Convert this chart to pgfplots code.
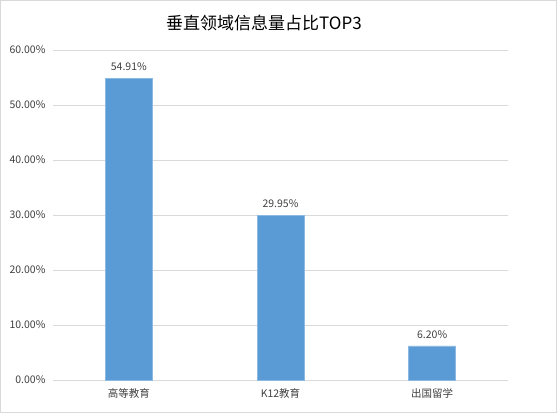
\documentclass[border=0pt]{standalone}
\usepackage{pgfplots}
\pgfplotsset{compat=1.18}
\usepackage{fontspec}
\setmainfont{Noto Sans CJK SC}
\definecolor{barblue}{HTML}{5B9BD5}
\definecolor{gridgray}{HTML}{D9D9D9}
\definecolor{txtgray}{HTML}{404040}
\begin{document}
\begin{tikzpicture}[x=1pt,y=1pt]
\draw[gridgray, line width=1pt] (0.5,0.5) rectangle (556.5,412.5);
\node[font=\fontsize{17}{20}\selectfont, text=black] at (264,390) {垂直领域信息量占比TOP3};
\begin{axis}[
  at={(53pt,33pt)}, anchor=south west,
  scale only axis, width=455pt, height=330pt,
  xmin=-0.5, xmax=2.5, ymin=0, ymax=60,
  xtick={0,1,2}, xticklabels={高等教育,K12教育,出国留学},
  ytick={0,10,...,60},
  axis lines*=left,
  x axis line style={gridgray, line width=1pt, -},
  y axis line style={draw=none},
  ymajorgrids, grid style={gridgray, line width=0.8pt},
  major tick length=0pt,
  /pgf/number format/assume math mode=true,
  yticklabel={\pgfmathprintnumber[fixed,fixed zerofill,precision=2]{\tick}\%},
  ticklabel style={font=\fontsize{10.5}{12}\selectfont, text=txtgray},
  yticklabel style={xshift=-4pt},
  xticklabel style={yshift=-5pt},
  ybar, bar width=47pt,
  nodes near coords={\pgfmathprintnumber[fixed,fixed zerofill,precision=2]{\pgfplotspointmeta}\%},
  every node near coord/.append style={font=\fontsize{10.5}{12}\selectfont, text=txtgray, yshift=4pt},
  clip=false,
]
\addplot[fill=barblue, draw=barblue!70!white, line width=0.5pt] coordinates {(0,54.91) (1,29.95) (2,6.20)};
\end{axis}
\end{tikzpicture}
\end{document}
